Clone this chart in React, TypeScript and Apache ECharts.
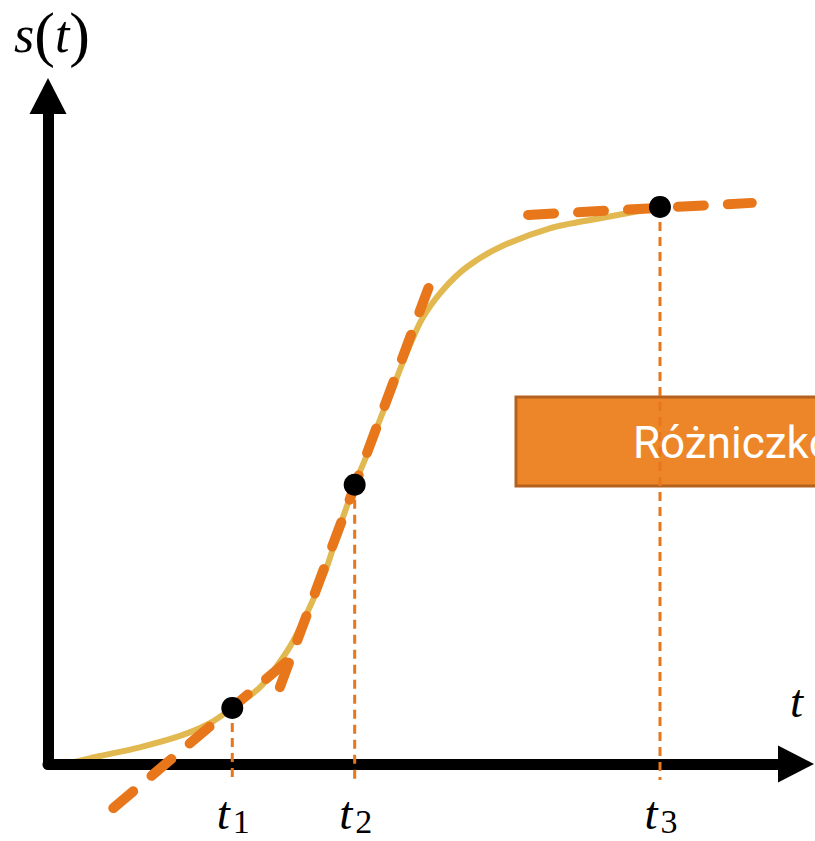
import React, { useEffect, useRef } from 'react';
import * as echarts from 'echarts';

// S-shaped curve s(t)
const curveT = [0, 0.32, 0.76, 1.35, 1.94, 2.38, 2.71, 3.12, 3.41, 3.6, 3.85, 4.1, 4.29, 4.51, 4.69, 4.88, 5.06, 5.28, 5.51, 5.81, 6.16, 6.65, 7.38, 8.12, 8.71, 9.0];
const curveS = [0, 0.02, 0.12, 0.25, 0.42, 0.61, 0.84, 1.15, 1.53, 1.83, 2.35, 2.95, 3.55, 4.18, 4.63, 5.15, 5.6, 6.17, 6.68, 7.1, 7.44, 7.74, 8.02, 8.17, 8.28, 8.34];

// marked points t1, t2, t3
const pointT = [2.71, 4.51, 9.0];
const pointS = [0.84, 4.18, 8.34];
const tickSymbol = 't';
const tickIndices = ['1', '2', '3'];

// tangent segments (start, end) at each point
const tangentT = [
  [0.96, 3.75],
  [3.41, 5.64],
  [7.06, 10.35],
];
const tangentS = [
  [-0.66, 1.74],
  [1.15, 7.25],
  [8.22, 8.4],
];

const guideBottom = -0.24;
const boxText = 'Różniczkowanie';

const ORANGE = '#E8761A';
const GOLD = '#E2B850';
const MATH = 'Liberation Serif';

export default function App() {
  const ref = useRef<HTMLDivElement>(null);
  useEffect(() => {
    document.body.style.margin = '0';
    const chart = echarts.init(ref.current!, undefined, { renderer: 'svg' });

    const tangentSeries = tangentT.map((ts, i) => ({
      type: 'line',
      data: ts.map((t, j) => [t, tangentS[i][j]]),
      showSymbol: false,
      symbol: 'none',
      clip: false,
      z: 4,
      lineStyle: { color: ORANGE, width: 10, type: [26, 24], cap: 'round' },
    }));
    const guideSeries = pointT.map((t, i) => ({
      type: 'line',
      data: [[t, pointS[i]], [t, guideBottom]],
      symbol: 'none',
      clip: false,
      z: 3,
      lineStyle: { color: ORANGE, width: 3, type: [9, 6] },
    }));

    const idxOf = (v: number) => pointT.findIndex((p) => Math.abs(p - v) < 1e-6);

    chart.setOption({
      animation: false,
      backgroundColor: '#ffffff',
      grid: { left: 48, top: 96, width: 748, height: 668, containLabel: false, outerBoundsMode: 'none' },
      xAxis: [
        {
          type: 'value',
          position: 'bottom',
          min: 0,
          max: 11,
          z: 2,
          splitLine: { show: false },
          axisTick: { show: false },
          axisLine: {
            show: true,
            onZero: false,
            symbol: ['none', 'triangle'],
            symbolSize: [37, 36],
            lineStyle: { color: '#000', width: 11, cap: 'round' },
          },
          axisLabel: {
            show: true,
            customValues: pointT,
            margin: 25,
            hideOverlap: false,
            formatter: () => tickSymbol,
            fontFamily: MATH,
            fontStyle: 'italic',
            fontSize: 47,
            lineHeight: 48,
            color: '#000',
            padding: [0, 18, 0, 0],
          },
          name: 't',
          nameLocation: 'end',
          nameGap: -6,
          nameTextStyle: {
            align: 'left',
            verticalAlign: 'bottom',
            padding: [0, 0, 40, 0],
            fontFamily: MATH,
            fontStyle: 'italic',
            fontSize: 47,
            color: '#000',
          },
        },
        {
          type: 'value',
          position: 'bottom',
          min: 0,
          max: 11,
          z: 2,
          splitLine: { show: false },
          axisTick: { show: false },
          axisLine: { show: false },
          axisLabel: {
            show: true,
            customValues: pointT,
            margin: 41,
            hideOverlap: false,
            formatter: (v: number) => tickIndices[idxOf(v)] ?? '',
            fontFamily: MATH,
            fontSize: 34,
            lineHeight: 32,
            color: '#000',
            padding: [0, 0, 0, 18],
          },
        },
      ],
      yAxis: {
        type: 'value',
        min: 0,
        max: 10,
        z: 2,
        splitLine: { show: false },
        axisTick: { show: false },
        axisLabel: { show: false },
        axisLine: {
          show: true,
          onZero: false,
          symbol: ['none', 'triangle'],
          symbolSize: [37, 36],
          lineStyle: { color: '#000', width: 11, cap: 'round' },
        },
        name: '{i|s}{p|(}{i|t}{p|)}',
        nameLocation: 'end',
        nameGap: 31,
        nameTextStyle: {
          padding: [0, 0, 0, 8],
          rich: {
            i: { fontFamily: MATH, fontStyle: 'italic', fontSize: 52, color: '#000', lineHeight: 62 },
            p: { fontFamily: MATH, fontSize: 62, color: '#000', lineHeight: 62 },
          },
        },
      },
      series: [
        {
          type: 'line',
          data: curveT.map((t, i) => [t, curveS[i]]),
          smooth: 0.3,
          symbol: 'none',
          z: 1,
          lineStyle: { color: GOLD, width: 6 },
        },
        ...guideSeries,
        ...tangentSeries,
        {
          type: 'scatter',
          data: pointT.map((t, i) => [t, pointS[i]]),
          symbolSize: 22,
          z: 6,
          itemStyle: { color: '#000', opacity: 1 },
        },
      ],
      graphic: [
        {
          type: 'group',
          z: 20,
          children: [
            {
              type: 'rect',
              shape: { x: 516, y: 397, width: 520, height: 89 },
              style: { fill: '#ED8628', stroke: '#B4611F', lineWidth: 3 },
            },
            {
              type: 'text',
              x: 633,
              y: 443,
              style: {
                text: boxText,
                fill: '#ffffff',
                font: '44px Roboto',
                verticalAlign: 'middle',
              },
            },
          ],
        },
      ],
    });
    return () => chart.dispose();
  }, []);
  return <div ref={ref} style={{ width: 815, height: 841, overflow: 'hidden' }} />;
}
